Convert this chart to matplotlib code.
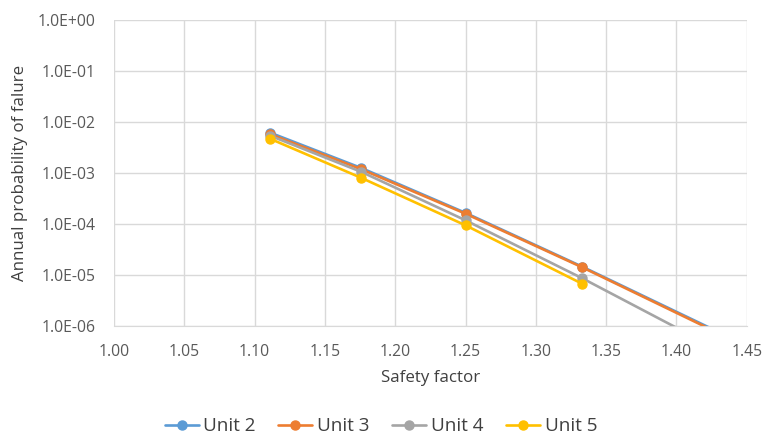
import matplotlib.pyplot as plt
from matplotlib.ticker import FixedLocator, FuncFormatter, NullLocator

plt.rcParams['font.family'] = ['Open Sans', 'DejaVu Sans']

safety_factor = [1.111, 1.176, 1.250, 1.333, 1.429]
unit2 = [6.2e-3, 1.25e-3, 1.65e-4, 1.45e-5, 7.8e-7]
unit3 = [5.8e-3, 1.18e-3, 1.59e-4, 1.41e-5, 7.4e-7]
unit4 = [5.4e-3, 1.05e-3, 1.18e-4, 8.6e-6, 3.5e-7]
unit5 = [4.7e-3, 8.0e-4, 9.4e-5, 6.7e-6]

series = [
    ("Unit 2", unit2, "#5B9BD5"),
    ("Unit 3", unit3, "#ED7D31"),
    ("Unit 4", unit4, "#A5A5A5"),
    ("Unit 5", unit5, "#FFC000"),
]

x_ticks = [1.00, 1.05, 1.10, 1.15, 1.20, 1.25, 1.30, 1.35, 1.40, 1.45]
y_ticks = [1e-6, 1e-5, 1e-4, 1e-3, 1e-2, 1e-1, 1e0]

fig = plt.figure(figsize=(7.62, 4.38), dpi=100)
ax = fig.add_axes([0.1496, 0.256, 0.8304, 0.698])

for name, vals, color in series:
    ax.plot(safety_factor[:len(vals)], vals, color=color, lw=1.9,
            marker="o", ms=6.5, label=name, solid_capstyle="round")

ax.set_yscale("log")
ax.set_ylim(1e-6, 1)
ax.set_xlim(1.00, 1.45)
ax.xaxis.set_major_locator(FixedLocator(x_ticks))
ax.yaxis.set_major_locator(FixedLocator(y_ticks))
ax.yaxis.set_minor_locator(NullLocator())
ax.xaxis.set_major_formatter(FuncFormatter(lambda v, p: f"{v:.2f}"))


def sci(v, p):
    # Excel style: 1.0E-03
    mant, exp = f"{v:.1E}".split("E")
    return f"{mant}E{exp[0]}{int(exp[1:]):02d}"


ax.yaxis.set_major_formatter(FuncFormatter(sci))

ax.grid(True, color="#D9D9D9", lw=1)
ax.set_axisbelow(True)
for side in ["top", "right", "left"]:
    ax.spines[side].set_visible(False)
ax.spines["bottom"].set_color("#D9D9D9")
ax.tick_params(length=0, labelsize=11.3, colors="#595959")
ax.tick_params(axis="x", pad=13)
ax.tick_params(axis="y", pad=13)

ax.set_xlabel("Safety factor", fontsize=12.2, color="#404040", labelpad=7)
ax.set_ylabel("Annual probability of falure", fontsize=12.2, color="#404040", labelpad=7)

fig.legend(loc="center", bbox_to_anchor=(0.5, 0.027), ncol=4, frameon=False,
           fontsize=13.6, handlelength=1.8, handletextpad=0.25, columnspacing=1.2,
           labelcolor="#404040")

fig.savefig("out.png", dpi=100)
